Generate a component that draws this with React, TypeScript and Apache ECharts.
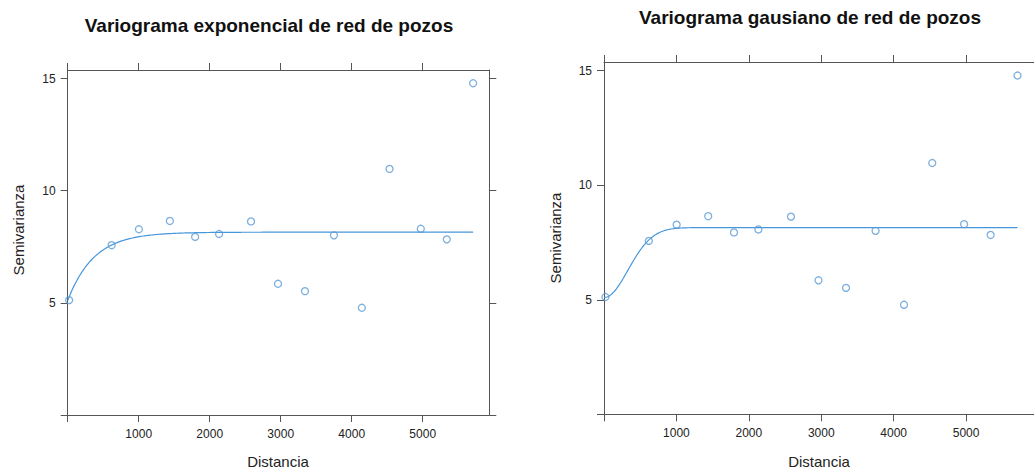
import React, { useEffect, useRef } from "react";
import * as echarts from "echarts";

// Empirical semivariogram (lag distance, semivariance)
const distancia: number[] = [20, 619, 1003, 1439, 1795, 2132, 2582, 2962, 3342, 3750, 4143, 4533, 4973, 5339, 5710];
const semivarianza: number[] = [5.12, 7.57, 8.28, 8.65, 7.94, 8.07, 8.63, 5.85, 5.52, 8.01, 4.78, 10.97, 8.3, 7.83, 14.79];

// Fitted model parameters
const expModel = { nugget: 5.1, psill: 3.05, range: 370 };
const gauModel = { nugget: 5.1, psill: 3.05, range: 470 };

const xTicks: number[] = [0, 1000, 2000, 3000, 4000, 5000];
const xLabels: number[] = [1000, 2000, 3000, 4000, 5000];
const yTicks: number[] = [0, 5, 10, 15];
const yLabels: number[] = [5, 10, 15];

const titles: string[] = [
  "Variograma exponencial de red de pozos",
  "Variograma gausiano de red de pozos",
];

const X_MAX = 5938;
const Y_MAX = 15.38;
const AXIS_COLOR = "#555";
const POINT_COLOR = "#5b9bd5";
const LINE_COLOR = "#4696dc";
const FONT = "'Liberation Sans', Arial, Helvetica, sans-serif";

function modelLine(kind: "exp" | "gau"): number[][] {
  const m = kind === "exp" ? expModel : gauModel;
  const hMax = Math.max(...distancia);
  const out: number[][] = [];
  const n = 300;
  for (let i = 0; i <= n; i++) {
    const h = (hMax * i) / n;
    const r = kind === "exp" ? h / m.range : (h / m.range) ** 2;
    out.push([h, m.nugget + m.psill * (1 - Math.exp(-r))]);
  }
  return out;
}

function xAxisFor(gridIndex: number, position: "bottom" | "top") {
  return {
    type: "value",
    gridIndex,
    position,
    min: 0,
    max: X_MAX,
    interval: 1000,
    axisLine: { show: true, onZero: false, lineStyle: { color: AXIS_COLOR, width: 1 } },
    axisTick: { show: true, inside: false, length: 7, customValues: xTicks, lineStyle: { color: AXIS_COLOR } },
    axisLabel: {
      show: position === "bottom",
      customValues: xLabels,
      margin: 13,
      fontSize: 12,
      color: "#222",
      fontFamily: FONT,
      formatter: (v: number) => String(v),
    },
    splitLine: { show: false },
  };
}

function yAxisFor(gridIndex: number, position: "left" | "right") {
  return {
    type: "value",
    gridIndex,
    position,
    min: 0,
    max: Y_MAX,
    interval: 5,
    axisLine: { show: true, onZero: false, lineStyle: { color: AXIS_COLOR, width: 1 } },
    axisTick: { show: true, inside: false, length: 7, customValues: yTicks, lineStyle: { color: AXIS_COLOR } },
    axisLabel: {
      show: position === "left",
      customValues: yLabels,
      margin: 12,
      fontSize: 12,
      color: "#222",
      fontFamily: FONT,
      formatter: (v: number) => String(v),
    },
    splitLine: { show: false },
  };
}

export default function App() {
  const ref = useRef<HTMLDivElement>(null);

  useEffect(() => {
    if (!ref.current) return;
    const chart = echarts.init(ref.current, undefined, { renderer: "svg" });
    const points = distancia.map((d, i) => [d, semivarianza[i]]);

    const scatter = (xi: number, yi: number) => ({
      type: "scatter",
      xAxisIndex: xi,
      yAxisIndex: yi,
      data: points,
      symbol: "circle",
      symbolSize: 7,
      itemStyle: { color: "rgba(255,255,255,0)", borderColor: POINT_COLOR, borderWidth: 1.3 },
      z: 3,
    });
    const curve = (xi: number, yi: number, kind: "exp" | "gau") => ({
      type: "line",
      xAxisIndex: xi,
      yAxisIndex: yi,
      data: modelLine(kind),
      showSymbol: false,
      lineStyle: { color: LINE_COLOR, width: 1.2 },
      z: 2,
    });

    chart.setOption({
      animation: false,
      backgroundColor: "#fff",
      grid: [
        { left: 67.7, top: 70, width: 421.6, height: 345 },
        { left: 604, top: 62, width: 431, height: 352.3 },
      ],
      xAxis: [xAxisFor(0, "bottom"), xAxisFor(0, "top"), xAxisFor(1, "bottom"), xAxisFor(1, "top")],
      yAxis: [yAxisFor(0, "left"), yAxisFor(0, "right"), yAxisFor(1, "left"), yAxisFor(1, "right")],
      series: [curve(0, 0, "exp"), scatter(0, 0), curve(2, 2, "gau"), scatter(2, 2)],
      graphic: [
        {
          type: "text",
          x: 269,
          y: 25,
          style: { text: titles[0], font: `bold 19px ${FONT}`, fill: "#111", textAlign: "center", textVerticalAlign: "middle" },
        },
        {
          type: "text",
          x: 810,
          y: 17,
          style: { text: titles[1], font: `bold 19px ${FONT}`, fill: "#111", textAlign: "center", textVerticalAlign: "middle" },
        },
        {
          type: "text",
          x: 278,
          y: 461,
          style: { text: "Distancia", font: `15px ${FONT}`, fill: "#222", textAlign: "center", textVerticalAlign: "middle" },
        },
        {
          type: "text",
          x: 819,
          y: 461,
          style: { text: "Distancia", font: `15px ${FONT}`, fill: "#222", textAlign: "center", textVerticalAlign: "middle" },
        },
        {
          type: "text",
          x: 18,
          y: 230,
          rotation: Math.PI / 2,
          style: { text: "Semivarianza", font: `15px ${FONT}`, fill: "#222", textAlign: "center", textVerticalAlign: "middle" },
        },
        {
          type: "text",
          x: 555,
          y: 238,
          rotation: Math.PI / 2,
          style: { text: "Semivarianza", font: `15px ${FONT}`, fill: "#222", textAlign: "center", textVerticalAlign: "middle" },
        },
      ],
    });

    return () => chart.dispose();
  }, []);

  return (
    <div
      ref={ref}
      style={{ position: "fixed", left: 0, top: 0, width: 1034, height: 470, background: "#fff" }}
    />
  );
}
